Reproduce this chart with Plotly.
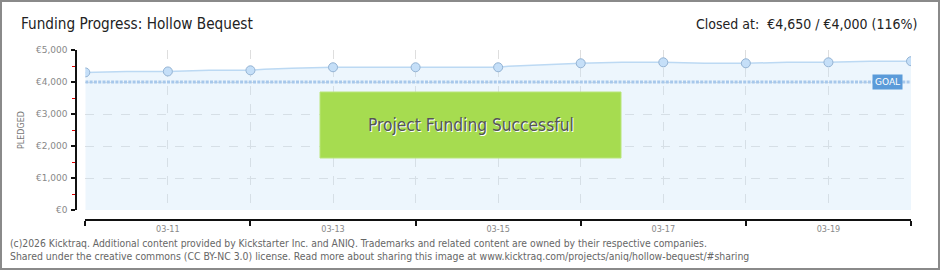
import plotly.graph_objects as go

# ---------------- data ----------------
title_text = "Funding Progress: Hollow Bequest"
closed_text = "Closed at:  €4,650 / €4,000 (116%)"
goal_value = 4000

# daily snapshots (markers)
daily_dates = ["2025-03-10", "2025-03-11", "2025-03-12", "2025-03-13", "2025-03-14",
               "2025-03-15", "2025-03-16", "2025-03-17", "2025-03-18", "2025-03-19",
               "2025-03-20"]
daily_pledged = [4300, 4330, 4365, 4460, 4460, 4460, 4585, 4615, 4585, 4615, 4650]

# intra-day pledge history (line)
detail_times = ["2025-03-10 00:00", "2025-03-10 12:00", "2025-03-11 00:00", "2025-03-11 12:00",
                "2025-03-12 00:00", "2025-03-12 04:00", "2025-03-12 12:00", "2025-03-12 20:00",
                "2025-03-13 00:00", "2025-03-14 00:00", "2025-03-15 00:00", "2025-03-15 03:00",
                "2025-03-15 09:00", "2025-03-15 15:00", "2025-03-15 21:00", "2025-03-16 00:00",
                "2025-03-16 12:00", "2025-03-17 00:00", "2025-03-17 12:00", "2025-03-18 00:00",
                "2025-03-18 12:00", "2025-03-19 00:00", "2025-03-19 12:00", "2025-03-20 00:00"]
detail_pledged = [4300, 4330, 4330, 4365, 4365, 4395, 4430, 4460,
                  4460, 4460, 4460, 4490, 4520, 4555, 4585, 4585,
                  4615, 4615, 4585, 4585, 4615, 4615, 4650, 4650]

y_ticks = [0, 1000, 2000, 3000, 4000, 5000]
y_tick_labels = ["€0", "€1,000", "€2,000", "€3,000", "€4,000", "€5,000"]
x_start, x_end = daily_dates[0], daily_dates[-1]

footer_1 = ("(c)2026 Kicktraq. Additional content provided by Kickstarter Inc. and ANIQ. "
            "Trademarks and related content are owned by their respective companies.")
footer_2 = ("Shared under the creative commons (CC BY-NC 3.0) license. Read more about sharing "
            "this image at www.kicktraq.com/projects/aniq/hollow-bequest/#sharing")

# ---------------- layout helpers (pixel -> paper) ----------------
W, H = 940, 270
ML, MR, MT, MB = 76, 29, 50, 50
PW, PH = W - ML - MR, H - MT - MB


def fx(px):
    return (px - ML) / PW


def fy(py):
    return (H - MB - py) / PH


COND = "DejaVu Sans Condensed, sans-serif"
DAY = 86400000

fig = go.Figure()

fig.add_trace(go.Scatter(
    x=detail_times, y=detail_pledged, mode="lines",
    line=dict(color="#bcd9f3", width=1.5),
    fill="tozeroy", fillcolor="rgba(196,224,250,0.3)",
    hoverinfo="skip", showlegend=False))

fig.add_trace(go.Scatter(
    x=[x_start, x_end], y=[goal_value, goal_value], mode="lines",
    line=dict(color="#a7c8eb", width=3, dash="3px,1.3px"),
    hoverinfo="skip", showlegend=False))

fig.add_trace(go.Scatter(
    x=daily_dates, y=daily_pledged, mode="markers",
    marker=dict(size=9, color="#c5dff8", line=dict(color="#94b3d3", width=1)),
    showlegend=False))

# dummy trace binding the offset axes
fig.add_trace(go.Scatter(
    x=[x_start, x_end], y=[None, None], xaxis="x2", yaxis="y2", mode="lines",
    hoverinfo="skip", showlegend=False))

x_dom = [fx(85.3), 1]
y_dom = [fy(210), 1]
grid = dict(showgrid=True, gridcolor="#dedede", griddash="dash", gridwidth=1)

fig.update_layout(
    width=W, height=H,
    margin=dict(l=ML, r=MR, t=MT, b=MB, pad=0),
    paper_bgcolor="white", plot_bgcolor="white",
    showlegend=False,
    xaxis=dict(
        type="date", domain=x_dom, anchor="y", range=[x_start, x_end],
        tick0=x_start, dtick=DAY, showticklabels=False, ticks="",
        showline=False, zeroline=False, **grid),
    yaxis=dict(
        domain=y_dom, anchor="x", range=[0, 5000], tickvals=y_ticks,
        showticklabels=False, ticks="", showline=False, zeroline=False, **grid),
    xaxis2=dict(
        type="date", domain=x_dom, overlaying="x", matches="x",
        anchor="free", position=0, range=[x_start, x_end],
        tick0="2025-03-11", dtick=2 * DAY, tickformat="%m-%d", ticks="",
        tickfont=dict(family=COND, size=9, color="#888"),
        showline=True, linecolor="#111", linewidth=1.5,
        showgrid=False, zeroline=False, ticklabelstandoff=0,
        minor=dict(tick0=x_start, dtick=2 * DAY, ticks="outside", ticklen=5,
                   tickcolor="#111", tickwidth=1.5, showgrid=False)),
    yaxis2=dict(
        domain=y_dom, overlaying="y", matches="y", anchor="free", position=0,
        range=[0, 5000], tickvals=y_ticks, ticktext=y_tick_labels,
        ticks="outside", ticklen=4, tickcolor="#111", tickwidth=1.5,
        tickfont=dict(family="DejaVu Sans, sans-serif", size=9, color="#888"),
        showline=True, linecolor="#111", linewidth=1.5,
        showgrid=False, zeroline=False, ticklabelstandoff=2,
        minor=dict(dtick=500, ticks="outside", ticklen=3, tickcolor="#e00000",
                   tickwidth=1, showgrid=False)),
)

shapes = [
    # outer frame
    dict(type="rect", xref="paper", yref="paper",
         x0=fx(1), x1=fx(W - 1), y0=fy(H - 1), y1=fy(1),
         line=dict(color="#8a8a8a", width=2), fillcolor="rgba(0,0,0,0)", layer="above"),
    # success banner
    dict(type="rect", xref="paper", yref="paper",
         x0=fx(320), x1=fx(621), y0=fy(158), y1=fy(92),
         line=dict(color="#b9e67a", width=1), fillcolor="#a6dc50", layer="above"),
]
fig.update_layout(shapes=shapes)

ann = [
    dict(text=title_text, x=fx(19), y=fy(23.5), xanchor="left", yanchor="middle",
         font=dict(family=COND, size=15.2, color="#222")),
    dict(text=closed_text, x=fx(919), y=fy(23.5), xanchor="right", yanchor="middle",
         font=dict(family=COND, size=14, color="#222")),
    dict(text="PLEDGED", x=fx(21), y=fy(130), xanchor="center", yanchor="middle",
         textangle=-90, font=dict(family="DejaVu Sans, sans-serif", size=8, color="#777")),
    dict(text="Project Funding Successful", x=fx(470.5), y=fy(125), xanchor="center",
         yanchor="middle",
         font=dict(family=COND, size=17.2, color="#555",
                   shadow="1px 1px 0px #ffffff")),
    dict(text="GOAL", x=fx(887.5), y=fy(82), xanchor="center", yanchor="middle",
         bgcolor="#5b9bd9", borderpad=2,
         font=dict(family="DejaVu Sans, sans-serif", size=9, color="white")),
    dict(text=footer_1, x=fx(8), y=fy(243), xanchor="left", yanchor="middle",
         font=dict(family=COND, size=10.3, color="#666")),
    dict(text=footer_2, x=fx(8), y=fy(256), xanchor="left", yanchor="middle",
         font=dict(family=COND, size=10.4, color="#666")),
]
for a in ann:
    a.update(xref="paper", yref="paper", showarrow=False)
fig.update_layout(annotations=ann)

fig.write_html("out.html")
